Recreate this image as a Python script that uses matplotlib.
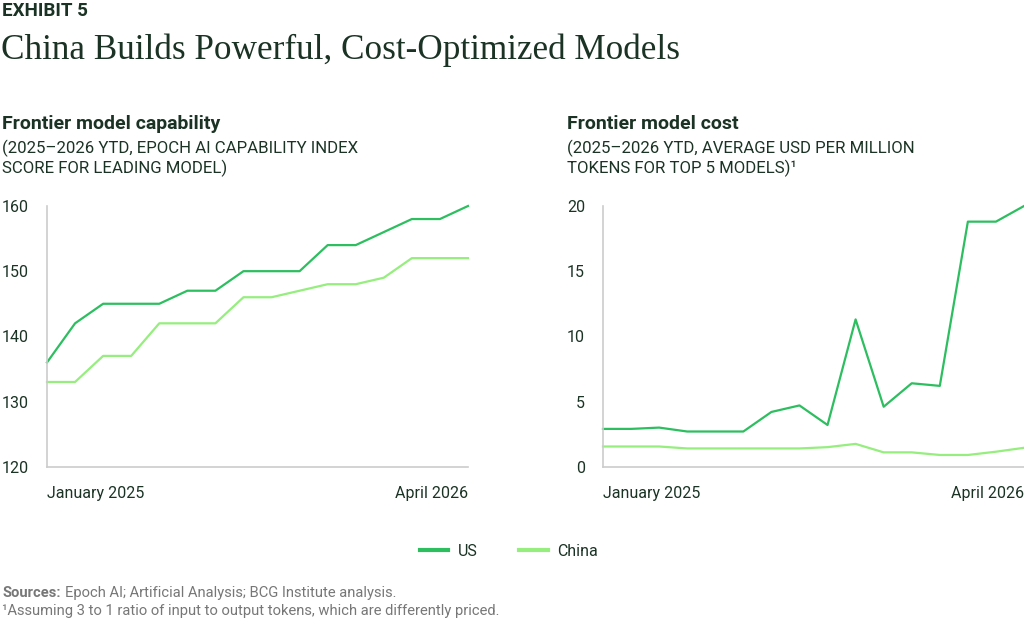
import matplotlib
matplotlib.use("Agg")
import matplotlib.pyplot as plt
from matplotlib.lines import Line2D

plt.rcParams['font.family'] = ['Roboto', 'DejaVu Sans']

# monthly points, January 2025 .. April 2026
months = list(range(16))
x_labels = ["January 2025", "April 2026"]

# Epoch AI capability index, leading model
cap_us = [136, 142, 145, 145, 145, 147, 147, 150, 150, 150, 154, 154, 156, 158, 158, 160]
cap_china = [133, 133, 137, 137, 142, 142, 142, 146, 146, 147, 148, 148, 149, 152, 152, 152]

# average USD per million tokens, top 5 models
cost_us = [2.9, 2.9, 3.0, 2.7, 2.7, 2.7, 4.2, 4.7, 3.2, 11.3, 4.6, 6.4, 6.2, 18.8, 18.8, 20.0]
cost_china = [1.55, 1.55, 1.55, 1.4, 1.4, 1.4, 1.4, 1.4, 1.5, 1.75, 1.1, 1.1, 0.9, 0.9, 1.15, 1.45]

US_COLOR = "#2dbe60"
CHINA_COLOR = "#95ee7e"
TEXT = "#1a3324"
GRAY = "#777777"

fig = plt.figure(figsize=(10.24, 6.28), dpi=100)

fig.text(0.002, 1 - 11 / 628, "EXHIBIT 5", fontsize=13.5, fontweight="bold",
         color=TEXT, va="center", ha="left")
fig.text(0.001, 1 - 50 / 628, "China Builds Powerful, Cost-Optimized Models",
         family="Liberation Serif", fontsize=25.3, color=TEXT, va="center", ha="left")


def panel(left, width, title, sub1, sub2, us, china, yticks, title_x):
    ax = fig.add_axes([left, 1 - 466.7 / 628, width, (466.7 - 206) / 628])
    ax.plot(months, us, color=US_COLOR, lw=1.6, clip_on=False)
    ax.plot(months, china, color=CHINA_COLOR, lw=1.6, clip_on=False)
    ax.set_xlim(0, 15)
    ax.set_ylim(yticks[0], yticks[-1])
    ax.set_yticks(yticks)
    ax.set_xticks([0, 15])
    ax.set_xticklabels(x_labels)
    xl = ax.get_xticklabels()
    xl[0].set_ha("left")
    xl[1].set_ha("right")
    ax.tick_params(axis="both", length=0, labelsize=11.5, colors=TEXT)
    ax.tick_params(axis="y", pad=13)
    ax.tick_params(axis="x", pad=14)
    for s in ["top", "right"]:
        ax.spines[s].set_visible(False)
    for s in ["left", "bottom"]:
        ax.spines[s].set_color("#cccccc")
        ax.spines[s].set_linewidth(1.2)
    fig.text(title_x, 1 - 124 / 628, title, fontsize=14, fontweight="bold",
             color=TEXT, va="center", ha="left")
    fig.text(title_x, 1 - 148 / 628, sub1, fontsize=12.1, color=TEXT, va="center", ha="left")
    fig.text(title_x, 1 - 168 / 628, sub2, fontsize=12.1, color=TEXT, va="center", ha="left")
    return ax


panel(47 / 1024, 421 / 1024, "Frontier model capability",
      "(2025\u20132026 YTD, EPOCH AI CAPABILITY INDEX",
      "SCORE FOR LEADING MODEL)",
      cap_us, cap_china, [120, 130, 140, 150, 160], 2 / 1024)

panel(603 / 1024, 421 / 1024, "Frontier model cost",
      "(2025\u20132026 YTD, AVERAGE USD PER MILLION",
      "TOKENS FOR TOP 5 MODELS)\u00b9",
      cost_us, cost_china, [0, 5, 10, 15, 20], 567 / 1024)

handles = [Line2D([], [], color=US_COLOR, lw=3),
           Line2D([], [], color=CHINA_COLOR, lw=3)]
fig.legend(handles, ["US", "China"], loc="center", bbox_to_anchor=(0.497, 1 - 551 / 628),
           ncol=2, frameon=False, fontsize=11.5, handlelength=1.8, columnspacing=2.6,
           handletextpad=0.6, labelcolor=TEXT)

# footer: bold "Sources:" followed by regular text
src = fig.text(0.002, 1 - 593 / 628, "Sources:", fontsize=10.6, color=GRAY,
               fontweight="bold", va="center", ha="left")
fig.canvas.draw()
bb = src.get_window_extent()
fig.text(bb.x1 / 1024 + 0.004, 1 - 593 / 628,
         "Epoch AI; Artificial Analysis; BCG Institute analysis.",
         fontsize=10.6, color=GRAY, va="center", ha="left")
fig.text(0.002, 1 - 611 / 628,
         "\u00b9Assuming 3 to 1 ratio of input to output tokens, which are differently priced.",
         fontsize=10.6, color=GRAY, va="center", ha="left")

fig.savefig("out.png", dpi=100)
